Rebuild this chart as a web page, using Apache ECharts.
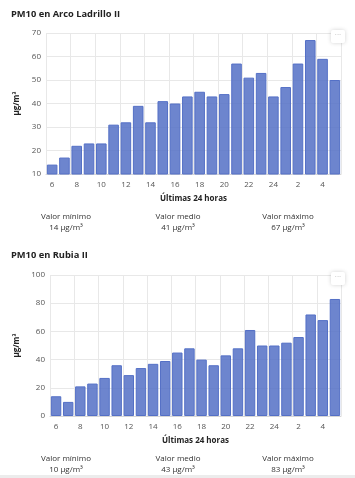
<!DOCTYPE html>
<html>
<head>
<meta charset="utf-8">
<script src="https://cdn.jsdelivr.net/npm/echarts@6/dist/echarts.min.js"></script>
<style>
  html, body { margin: 0; padding: 0; background: #fff; }
  #chart { width: 355px; height: 478px; }
  #band { position: absolute; left: 0; top: 475px; width: 355px; height: 3px; background: #ececec; }
</style>
</head>
<body>
<div id="chart"></div>
<div id="band"></div>
<script>
// ---- data ----
const hours = ['6','7','8','9','10','11','12','13','14','15','16','17','18','19','20','21','22','23','24','1','2','3','4','5'];
const titles = ['PM10 en Arco Ladrillo II', 'PM10 en Rubia II'];
const arcoValues = [14,17,22,23,23,31,32,39,32,41,40,43,45,43,44,57,51,53,43,47,57,67,59,50];
const rubiaValues = [14,10,21,23,27,36,29,34,37,39,45,48,40,36,43,48,61,50,50,52,56,72,68,83];
const statLabels = ['Valor mínimo', 'Valor medio', 'Valor máximo'];
const arcoStats = ['14 µg/m³', '41 µg/m³', '67 µg/m³'];
const rubiaStats = ['10 µg/m³', '43 µg/m³', '83 µg/m³'];
const unitName = 'µg/m³';
const xName = 'Últimas 24 horas';

// ---- layout ----
const FONT = '"Open Sans", sans-serif';
const grids = [
  { left: 46, right: 14, top: 33, height: 141 },
  { left: 50, right: 14, top: 275, height: 141 }
];
const yRanges = [ { min: 10, max: 70, interval: 10 }, { min: 0, max: 100, interval: 20 } ];
const yNameGaps = [20, 24];
const titleTops = [10, 251];
const statTops = [[216.5, 228], [458.5, 470]];
const statCenters = [66, 178, 288];

const gridColor = '#e8e8e8';

function xAxis(i) {
  return {
    type: 'category', gridIndex: i, data: hours,
    name: xName, nameLocation: 'middle', nameGap: 21,
    nameTextStyle: { fontFamily: FONT, fontWeight: 'bold', fontSize: 8, color: '#222' },
    axisLine: { show: true, lineStyle: { color: '#d6d6d6' } },
    axisTick: { show: false, interval: 1 },
    axisLabel: { interval: 1, margin: 7, fontFamily: FONT, fontSize: 8, color: '#555' },
    splitLine: { show: true, interval: 1, lineStyle: { color: gridColor } }
  };
}
function yAxis(i) {
  return Object.assign({
    type: 'value', gridIndex: i,
    name: unitName, nameLocation: 'middle', nameGap: yNameGaps[i], nameRotate: 90,
    nameTextStyle: { fontFamily: FONT, fontWeight: 'bold', fontSize: 8, color: '#222' },
    axisLine: { show: false }, axisTick: { show: false },
    axisLabel: { margin: 5, fontFamily: FONT, fontSize: 8, color: '#555' },
    splitLine: { show: true, lineStyle: { color: gridColor } }
  }, yRanges[i]);
}
function bars(i, values) {
  return {
    type: 'bar', xAxisIndex: i, yAxisIndex: i, data: values,
    barCategoryGap: '14%',
    itemStyle: { color: 'rgba(84,112,198,0.85)', borderColor: '#5470c6', borderWidth: 1 },
    silent: true, animation: false
  };
}

const graphic = [];
[arcoStats, rubiaStats].forEach((st, i) => {
  statLabels.forEach((lab, j) => {
    graphic.push({ type: 'text', x: statCenters[j], y: statTops[i][0],
      style: { text: lab, fontFamily: FONT, fontSize: 8, fill: '#333', align: 'center', verticalAlign: 'middle' } });
    graphic.push({ type: 'text', x: statCenters[j], y: statTops[i][1],
      style: { text: st[j], fontFamily: FONT, fontSize: 8, fill: '#333', align: 'center', verticalAlign: 'middle' } });
  });
  // menu button
  const by = i === 0 ? 30 : 272;
  graphic.push({ type: 'rect', x: 331, y: by, shape: { width: 14, height: 13, r: 2 },
    style: { fill: '#fff', shadowBlur: 4, shadowColor: 'rgba(0,0,0,0.18)' }, z: 10 });
  graphic.push({ type: 'text', x: 338, y: by + 5, z: 11,
    style: { text: '···', fontFamily: FONT, fontSize: 8, fill: '#bbb', align: 'center', verticalAlign: 'middle' } });
});

const chart = echarts.init(document.getElementById('chart'), null, { renderer: 'canvas' });
chart.setOption({
  animation: false,
  title: titles.map((t, i) => ({
    text: t, left: 11, top: titleTops[i], padding: 0,
    textStyle: { fontFamily: FONT, fontWeight: 'bold', fontSize: 9.3, color: '#222' }
  })),
  grid: grids,
  xAxis: [xAxis(0), xAxis(1)],
  yAxis: [yAxis(0), yAxis(1)],
  series: [bars(0, arcoValues), bars(1, rubiaValues)],
  graphic: graphic
});
</script>
</body>
</html>
